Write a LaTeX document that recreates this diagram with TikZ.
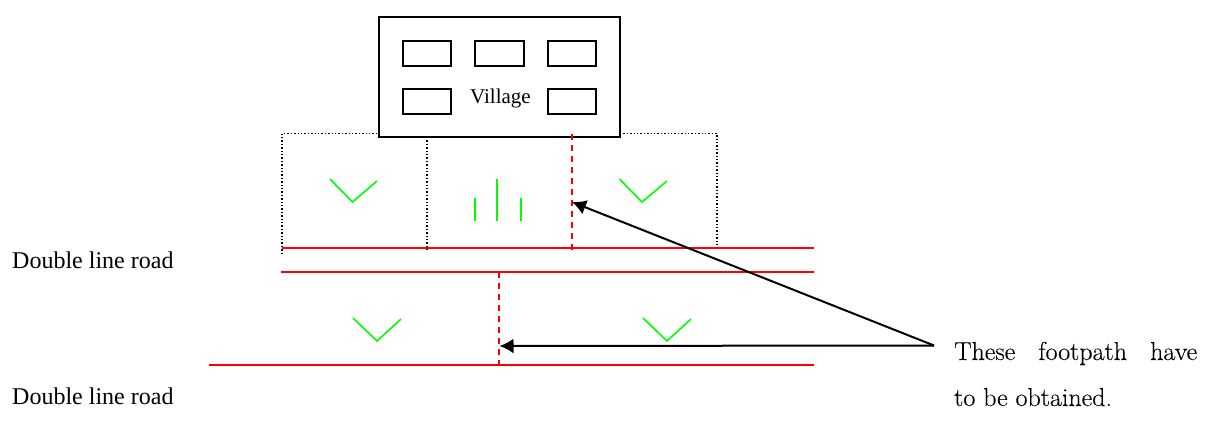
\documentclass[tikz,border=0pt]{standalone}
\usepackage{fontspec}
\setmainfont{Liberation Serif}
\newfontfamily\notefont[FakeBold=0.2]{Latin Modern Roman}
\usetikzlibrary{arrows.meta}
\tikzset{
  house/.style={draw=black, line width=2pt, inner sep=0pt, minimum width=48.5pt, minimum height=24.5pt},
  roadline/.style={draw=red, line width=2pt},
  footpath/.style={draw=red, line width=2pt, dash pattern=on 6pt off 5pt},
  fieldline/.style={draw=black, line width=1.4pt, dash pattern=on 1.4pt off 2pt},
  crop/.style={draw=green, line width=1.6pt},
  pointer/.style={draw=black, line width=2pt, -{Latex[length=14pt,width=15pt]}},
  roadlabel/.style={inner sep=0pt, anchor=base west, font=\fontsize{24}{26}\selectfont},
  villagelabel/.style={inner sep=0pt, anchor=base, font=\fontsize{21}{24}\selectfont},
  notelabel/.style={inner sep=0pt, anchor=base west, font=\notefont\fontsize{26}{28}\selectfont}
}
\begin{document}
\begin{tikzpicture}
\useasboundingbox (0pt, 0pt) rectangle (1211pt, -429pt);
% fields
\draw [fieldline] (282pt, -254pt) -- (282pt, -133.5pt) -- (378pt, -133.5pt);
\draw [fieldline] (620pt, -133.5pt) -- (717pt, -133.5pt) -- (717pt, -250pt);
\draw [fieldline] (427pt, -133.5pt) -- (427pt, -250pt);
% village
\node (village) [draw=black, line width=2pt, fill=white, inner sep=0pt, minimum width=241.5pt, minimum height=120pt] at (499.25pt, -77pt) {};
\node (h1) [house] at (426.75pt, -53.25pt) {};
\node (h2) [house] at (499.25pt, -53.25pt) {};
\node (h3) [house] at (571.75pt, -53.25pt) {};
\node (h4) [house] at (426.75pt, -101.25pt) {};
\node (h5) [house] at (571.75pt, -101.25pt) {};
\node (villagetext) [villagelabel] at (500.5pt, -103.5pt) {Village};
% roads
\coordinate (r1a) at (282pt, -248pt);
\coordinate (r1b) at (814pt, -248pt);
\coordinate (r2a) at (281pt, -272pt);
\coordinate (r2b) at (814pt, -272pt);
\coordinate (r3a) at (209pt, -364.5pt);
\coordinate (r3b) at (814pt, -364.5pt);
\draw [roadline] (r1a) -- (r1b);
\draw [roadline] (r2a) -- (r2b);
\draw [roadline] (r3a) -- (r3b);
% footpaths
\coordinate (f1a) at (572pt, -133.5pt);
\coordinate (f1b) at (572pt, -252pt);
\coordinate (f2a) at (499pt, -272pt);
\coordinate (f2b) at (499pt, -364.5pt);
\draw [footpath] (f1a) -- (f1b);
\draw [footpath] (f2a) -- (f2b);
% crops
\draw [crop] (330pt, -179pt) -- (352.5pt, -202pt) -- (377pt, -181pt);
\draw [crop] (619.5pt, -179pt) -- (642pt, -202pt) -- (667pt, -181pt);
\draw [crop] (353pt, -318pt) -- (377pt, -341pt) -- (401pt, -319pt);
\draw [crop] (643pt, -318pt) -- (667pt, -341pt) -- (691pt, -319pt);
\draw [crop] (475pt, -198pt) -- (475pt, -221pt);
\draw [crop] (497pt, -179pt) -- (497pt, -221pt);
\draw [crop] (521pt, -198pt) -- (521pt, -221pt);
% labels
\node (road1) [roadlabel] at (12pt, -268pt) {Double line road};
\node (road2) [roadlabel] at (12pt, -404.5pt) {Double line road};
\node (note1) [notelabel, text width=243pt, align=left] at (954pt, -360pt) {These\hfill footpath\hfill have};
\node (note2) [notelabel] at (954pt, -406pt) {to be obtained.};
% arrows
\coordinate (start) at (934pt, -345.5pt);
\coordinate (end1) at (572pt, -202pt);
\coordinate (end2) at (499.5pt, -346pt);
\draw [pointer] (start) -- (end1);
\draw [pointer] (start) -- (end2);
\end{tikzpicture}
\end{document}
